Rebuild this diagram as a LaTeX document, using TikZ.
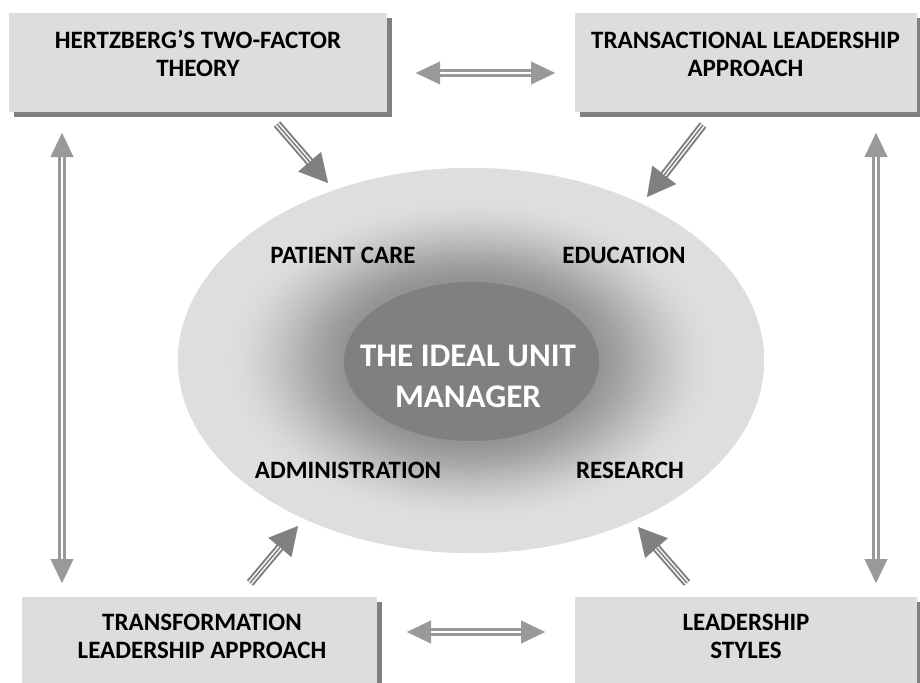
\documentclass[tikz,border=0pt]{standalone}
\usepackage{fontspec}
\setmainfont{Carlito}
\usetikzlibrary{arrows.meta,shapes.geometric,shadows}

\definecolor{boxfill}{HTML}{DDDDDD}
\definecolor{boxshadow}{HTML}{808080}
\definecolor{linkgray}{HTML}{999999}
\definecolor{flowgray}{HTML}{808080}
\definecolor{coregray}{HTML}{808080}
\definecolor{fieldgray}{gray}{0.87}

\tikzset{
  box/.style={rectangle, fill=boxfill, inner sep=0pt,
    general shadow={fill=boxshadow, shadow xshift=5pt, shadow yshift=-5pt}},
  boxtext/.style={align=center, inner sep=0pt, font=\bfseries\fontsize{25}{28}\selectfont},
  areatext/.style={inner sep=0pt, font=\bfseries\fontsize{25}{28}\selectfont},
  % two-way link: grey shaft with a white centre line, triangular heads
  twoway/.style={draw=linkgray, line width=8pt, shorten <=20pt, shorten >=20pt,
    preaction={draw=linkgray, line width=0.1pt, shorten <=0pt, shorten >=0pt,
      {Triangle[length=24pt,width=23pt]}-{Triangle[length=24pt,width=23pt]}},
    postaction={draw=white, line width=2.2pt, shorten <=24pt, shorten >=24pt}},
  % one-way flow into the field: striped shaft, large head
  inflow/.style={draw=flowgray, line width=8.5pt, shorten >=24pt,
    preaction={draw=flowgray, line width=0.1pt, shorten >=0pt,
      -{Triangle[length=28pt,width=30pt]}},
    postaction={draw=white, double=flowgray, double distance=1.6pt,
      line width=1.4pt, shorten >=28pt}},
}

\begin{document}
\begin{tikzpicture}[x=1pt, y=-1pt]
\useasboundingbox[fill=white] (0,0) rectangle (920,682);

% the field
\node[ellipse, fill=fieldgray, minimum width=586pt, minimum height=385pt, inner sep=0pt]
  (field) at (471,360.5) {};

% glow: nested ellipses darkening towards the core
\foreach \f in {1.000,0.995,...,0.395}{%
  \pgfmathsetmacro{\u}{max(0,min(1,(\f-0.43)/0.42))}%
  \pgfmathsetmacro{\s}{0.5*(3*\u*\u-2*\u*\u*\u)+0.5*sin(90*\u)}%
  \pgfmathsetmacro{\g}{0.58+0.29*\s}%
  \pgfmathsetmacro{\rx}{293*\f}%
  \pgfmathsetmacro{\ry}{192.5*\f}%
  \definecolor{glowgray}{gray}{\g}%
  \fill[glowgray] (field.center) ellipse [x radius=\rx pt, y radius=\ry pt];
}

% the core
\node[ellipse, fill=coregray, minimum width=255pt, minimum height=159pt, inner sep=0pt]
  (core) at (471.5,361.5) {};
\node[align=center, inner sep=0pt, text=white, font=\bfseries\fontsize{33}{41}\selectfont]
  (coretext) at (468,376.5) {THE IDEAL UNIT\\MANAGER};

\node[areatext] (care) at (343,255) {PATIENT CARE};
\node[areatext] (edu)  at (624,255) {EDUCATION};
\node[areatext] (adm)  at (348,470) {ADMINISTRATION};
\node[areatext] (res)  at (630,470) {RESEARCH};

% the four corner boxes
\node[box, minimum width=378pt, minimum height=99pt] (herz)  at (198,62.5) {};
\node[box, minimum width=342pt, minimum height=99pt] (trans) at (746,62.5) {};
\node[box, minimum width=355pt, minimum height=103pt] (tform) at (199.5,648.5) {};
\node[box, minimum width=342pt, minimum height=103pt] (styles) at (746,648.5) {};

\node[boxtext] (herzt)   at (198,53.5)   {HERTZBERG’S TWO-FACTOR\\THEORY};
\node[boxtext] (transt)  at (745.5,54)   {TRANSACTIONAL LEADERSHIP\\APPROACH};
\node[boxtext] (tformt)  at (202,636.5)  {TRANSFORMATION\\LEADERSHIP APPROACH};
\node[boxtext] (stylest) at (746,636.5)  {LEADERSHIP\\STYLES};

% arrow ends
\coordinate (topL) at (416,73);  \coordinate (topR) at (555,73);
\coordinate (botL) at (407,632); \coordinate (botR) at (545,632);
\coordinate (leftT) at (62,133); \coordinate (leftB) at (62,583);
\coordinate (rightT) at (876,133); \coordinate (rightB) at (876,583);

\coordinate (herzOut)   at (277,124); \coordinate (herzIn)   at (328,183);
\coordinate (transOut)  at (703,125); \coordinate (transIn)  at (647,197);
\coordinate (tformOut)  at (250,583); \coordinate (tformIn)  at (298,526);
\coordinate (stylesOut) at (687,583); \coordinate (stylesIn) at (638,527);

% links between the boxes
\path[twoway] (topL) -- (topR);
\path[twoway] (botL) -- (botR);
\path[twoway] (leftT) -- (leftB);
\path[twoway] (rightT) -- (rightB);

% flows into the field
\path[inflow] (herzOut) -- (herzIn);
\path[inflow] (transOut) -- (transIn);
\path[inflow] (tformOut) -- (tformIn);
\path[inflow] (stylesOut) -- (stylesIn);
\end{tikzpicture}
\end{document}
